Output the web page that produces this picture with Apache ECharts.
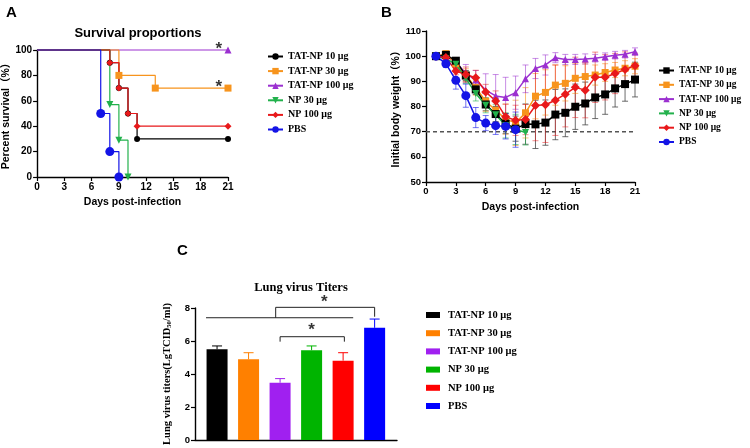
<!DOCTYPE html>
<html><head><meta charset="utf-8">
<script src="https://cdn.jsdelivr.net/npm/echarts@6/dist/echarts.min.js"></script>
<style>html,body{margin:0;padding:0;background:#fff}#c{width:750px;height:448px}</style>
</head><body><div id="c"></div>
<script>
// ---------- data ----------
const groups = ['TAT-NP 10 μg','TAT-NP 30 μg','TAT-NP 100 μg','NP 30 μg','NP 100 μg','PBS'];
const colorsA = ['#000000','#f7941d','#9b30d0','#22b14c','#e8191b','#1414e6'];
const colorsC = ['#000000','#ff8000','#a020f0','#00b400','#ff0000','#0000ff'];

// Panel A: Kaplan-Meier survival (day of event, percent surviving after event)
const survDays10 = [0, 8, 9, 10, 11, 21];   const survPct10 = [100, 90, 70, 50, 30, 30];
const survDays30 = [0, 9, 13, 21];          const survPct30 = [100, 80, 70, 70];
const survDays100 = [0, 21];                const survPct100 = [100, 100];
const survDaysNP30 = [0, 8, 9, 10];         const survPctNP30 = [100, 57, 29, 0];
const survDaysNP100 = [0, 8, 9, 10, 11, 21];const survPctNP100 = [100, 90, 70, 50, 40, 40];
const survDaysPBS = [0, 7, 8, 9];           const survPctPBS = [100, 50, 20, 0];
const survStars = [[20, 100.8], [20, 70.8]];

// Panel B: body weight (%), days 1..21
const days = [1,2,3,4,5,6,7,8,9,10,11,12,13,14,15,16,17,18,19,20,21];
const bw10    = [100,100.5,98.2,92.3,86.8,80.8,77,73.2,71.2,73,72.9,73.6,76.8,77.5,79.9,81.2,83.6,84.8,87.2,88.9,90.7];
const bw10Err = [0.5,0.5,1,2,2,2.5,3,4,5,8,9.6,9,10,9.5,9,8.5,8.4,7.9,7.4,6.8,6.9];
const bw30    = [100,101,97,92.5,87.5,82.1,78.5,75,73.5,77.5,84.1,85.6,88.5,89.2,91.2,91.9,92.5,93.5,94.5,95.2,96];
const bw30Err = [0.3,0.5,1.5,2.5,3,4,5,6,9,10,9,9,8,7,6,5,4,3.5,3,3,3];
const bw100   = [100,100,97.6,93.2,90.5,86.5,84.2,83.6,85.5,91,95.1,96.5,99.4,98.7,98.7,98.9,99.2,99.8,100.4,100.8,101.8];
const bw100Err= [0.3,0.5,1.5,3.5,3.8,6.5,8.5,8,6.6,5.5,4,4,2,2,2,2,1.5,1.5,1.5,1.5,1.5];
const bwNP30  = [100,99,96.8,91.2,85.2,80.5,76.7,72.5,70.9,69.7];
const bwNP30Err=[0.3,1,1.5,2,3,3,4,5,6,5];
const bwNP100 = [100,99.5,94.1,92.7,91.4,85.8,82.2,75.9,74.5,74.8,80.4,80.7,82.5,84.9,87.6,86.5,91.6,91.6,93.1,94.7,96.2];
const bwNP100Err=[0.3,0.5,1.5,3,3,3,4,5,6,6,14,15,14,13,12,11,10,9,8,7,5];
const bwPBS   = [100,97,90.4,84.3,75.6,73.4,72.4,72.1,70.8];
const bwPBSErr= [0.3,1.5,3.5,4.6,4,3,3.5,5,7];
const bwThreshold = 70;

// Panel C: lung virus titers
const titerMean = [5.5, 4.89, 3.47, 5.44, 4.81, 6.8];
const titerErr  = [0.2, 0.4, 0.25, 0.26, 0.48, 0.53];
const sigLine1   = [[-0.35, 7.41], [4.32, 7.41]];
const sigBracket1= [[1.86, 7.41], [1.86, 8.04], [5, 8.04], [5, 7.47]];
const sigBracket2= [[2, 5.96], [2, 6.26], [4.04, 6.26], [4.04, 5.96]];
const sigStars   = [[3.4, 8.36], [3.0, 6.62]];

// ---------- helpers ----------
const SANS = 'Liberation Sans, Arial, Noto Sans CJK SC, sans-serif';
const SERIF = 'Liberation Serif, Times New Roman, serif';
const zip = (a, b) => a.map((v, i) => [v, b[i]]);
function survData(d, p) {
  return d.map((x, i) => i === 0 ? {value: [x, p[i]], symbol: 'none'} : {value: [x, p[i]]});
}
function errSeries(xs, ys, es, color, xi, yi, capHalf, upOnly) {
  return {
    type: 'custom', xAxisIndex: xi, yAxisIndex: yi, z: 1, silent: true,
    data: xs.slice(0, ys.length).map((x, i) => [x, ys[i], es[i]]),
    renderItem: function (params, api) {
      const x = api.value(0), y = api.value(1), e = api.value(2);
      const top = api.coord([x, y + e]);
      const bot = api.coord([x, upOnly ? y : y - e]);
      const st = {stroke: color, lineWidth: 1};
      const ch = [
        {type: 'line', shape: {x1: top[0], y1: top[1], x2: bot[0], y2: bot[1]}, style: st},
        {type: 'line', shape: {x1: top[0] - capHalf, y1: top[1], x2: top[0] + capHalf, y2: top[1]}, style: st}
      ];
      if (!upOnly) ch.push({type: 'line', shape: {x1: bot[0] - capHalf, y1: bot[1], x2: bot[0] + capHalf, y2: bot[1]}, style: st});
      return {type: 'group', children: ch};
    }
  };
}
const axisLine = {onZero: false, lineStyle: {color: '#000', width: 1.4}};
const axisTick = {show: true, length: 4, lineStyle: {color: '#000', width: 1.2}};
function lbl(size) { return {color: '#000', fontFamily: SANS, fontWeight: 'bold', fontSize: size, margin: 5}; }
const nameStyle = {color: '#000', fontFamily: SANS, fontWeight: 'bold', fontSize: 10.5};

// ---------- series ----------
const series = [];
// A
const survSets = [
  [survDays100, survPct100, 2, 'triangle', 7, 0, 3],
  [survDays10, survPct10, 0, 'circle', 6, 0, 3],
  [survDays30, survPct30, 1, 'rect', 7, 0, 3],
  [survDaysNP30, survPctNP30, 3, 'triangle', 7, 180, 3],
  [survDaysNP100, survPctNP100, 4, 'diamond', 7, 0, 3],
  [survDaysPBS, survPctPBS, 5, 'circle', 9, 0, 4]
];
survSets.forEach(s => {
  series.push({
    name: groups[s[2]], type: 'line', step: 'end', xAxisIndex: 0, yAxisIndex: 0,
    data: survData(s[0], s[1]), symbol: s[3], symbolSize: s[4], symbolRotate: s[5],
    lineStyle: {width: 1.2, color: colorsA[s[2]]}, itemStyle: {color: colorsA[s[2]]},
    clip: false, z: s[6]
  });
});
series.push({
  type: 'scatter', xAxisIndex: 0, yAxisIndex: 0, data: survStars, symbolSize: 0, clip: false,
  label: {show: true, position: 'inside', formatter: '*', color: '#000', fontSize: 17, fontWeight: 'bold', fontFamily: SANS}
});
// B
series.push({
  type: 'line', xAxisIndex: 1, yAxisIndex: 1, data: [[0, bwThreshold], [21, bwThreshold]],
  symbol: 'none', lineStyle: {color: '#555', width: 1.5, type: [4, 3]}, z: 0, silent: true
});
const bwSets = [
  [bw10, bw10Err, 0, 'rect', 8, 0, 'rgba(60,60,60,0.75)'],
  [bw30, bw30Err, 1, 'rect', 7, 0, 'rgba(247,148,29,0.6)'],
  [bw100, bw100Err, 2, 'triangle', 7, 0, 'rgba(155,48,208,0.55)'],
  [bwNP30, bwNP30Err, 3, 'triangle', 7, 180, 'rgba(34,177,76,0.6)'],
  [bwNP100, bwNP100Err, 4, 'diamond', 9, 0, 'rgba(232,25,27,0.5)'],
  [bwPBS, bwPBSErr, 5, 'circle', 9, 0, 'rgba(20,20,230,0.6)']
];
bwSets.forEach(s => {
  series.push(errSeries(days, s[0], s[1], s[6], 1, 1, 3, false));
});
[2, 1, 0, 3, 4, 5].forEach(k => {
  const s = bwSets[k];
  series.push({
    name: groups[s[2]] + ' ', type: 'line', xAxisIndex: 1, yAxisIndex: 1,
    data: zip(days.slice(0, s[0].length), s[0]), symbol: s[3], symbolSize: s[4], symbolRotate: s[5],
    lineStyle: {width: 1.5, color: colorsA[s[2]]}, itemStyle: {color: colorsA[s[2]]}, z: 3
  });
});
// C
titerMean.forEach((v, i) => {
  series.push({
    name: groups[i] + '  ', type: 'bar', xAxisIndex: 2, yAxisIndex: 2, data: [[i, v]],
    barWidth: 21, barGap: '-100%', itemStyle: {color: colorsC[i]}, z: 2
  });
  series.push(errSeries([i], [v], [titerErr[i]], colorsC[i], 2, 2, 5, true));
});
[sigLine1, sigBracket1, sigBracket2].forEach(d => {
  series.push({type: 'line', xAxisIndex: 2, yAxisIndex: 2, data: d, symbol: 'none',
    lineStyle: {color: '#222', width: 1}, clip: false, z: 4, silent: true});
});
series.push({
  type: 'scatter', xAxisIndex: 2, yAxisIndex: 2, data: sigStars, symbolSize: 0, clip: false,
  label: {show: true, position: 'inside', formatter: '*', color: '#000', fontSize: 17, fontWeight: 'bold', fontFamily: SANS}
});

const legendBase = {orient: 'vertical', selectedMode: false, padding: 0, formatter: n => n.trim()};
const option = {
  animation: false,
  backgroundColor: '#fff',
  title: [
    {text: 'A', left: 1, top: 0, textStyle: {fontFamily: SANS, fontWeight: 'bold', fontSize: 15, color: '#000'}},
    {text: 'B', left: 376, top: 0, textStyle: {fontFamily: SANS, fontWeight: 'bold', fontSize: 15, color: '#000'}},
    {text: 'C', left: 172, top: 238, textStyle: {fontFamily: SANS, fontWeight: 'bold', fontSize: 15, color: '#000'}},
    {text: 'Survival proportions', left: 133, top: 22, textAlign: 'center',
     textStyle: {fontFamily: SANS, fontWeight: 'bold', fontSize: 13, color: '#000'}},
    {text: 'Lung virus Titers', left: 296, top: 276, textAlign: 'center',
     textStyle: {fontFamily: SERIF, fontWeight: 'bold', fontSize: 12.5, color: '#000'}}
  ],
  legend: [
    Object.assign({}, legendBase, {data: groups, left: 267, top: 51.5, itemWidth: 15, itemHeight: 8, itemGap: 4.6,
      textStyle: {fontFamily: SERIF, fontWeight: 'bold', fontSize: 10, color: '#000', lineHeight: 10}}),
    Object.assign({}, legendBase, {data: groups.map(g => g + ' '), left: 658, top: 65.5, itemWidth: 15, itemHeight: 8, itemGap: 4.3,
      textStyle: {fontFamily: SERIF, fontWeight: 'bold', fontSize: 9.5, color: '#000', lineHeight: 9}}),
    Object.assign({}, legendBase, {data: groups.map(g => g + '  '), left: 426, top: 309, icon: 'rect', itemWidth: 14, itemHeight: 6, itemGap: 6.2,
      textStyle: {fontFamily: SERIF, fontWeight: 'bold', fontSize: 10.5, color: '#000', lineHeight: 12, padding: [0, 0, 0, 3]}})
  ],
  grid: [
    {left: 37, top: 50, width: 191, height: 127},
    {left: 426, top: 31, width: 209, height: 151},
    {left: 195, top: 308, width: 202, height: 132}
  ],
  xAxis: [
    {gridIndex: 0, type: 'value', min: 0, max: 21, interval: 3, axisLine: axisLine, axisTick: axisTick,
     axisLabel: lbl(10), splitLine: {show: false}, name: 'Days post-infection', nameLocation: 'middle', nameGap: 20, nameTextStyle: nameStyle},
    {gridIndex: 1, type: 'value', min: 0, max: 21, interval: 3, axisLine: axisLine, axisTick: axisTick,
     axisLabel: lbl(9.5), splitLine: {show: false}, name: 'Days post-infection', nameLocation: 'middle', nameGap: 20, nameTextStyle: nameStyle},
    {gridIndex: 2, type: 'value', min: -0.7, max: 5.71, axisLine: axisLine, axisTick: {show: false},
     axisLabel: {show: false}, splitLine: {show: false}}
  ],
  yAxis: [
    {gridIndex: 0, type: 'value', min: 0, max: 100, interval: 20, axisLine: Object.assign({show: true}, axisLine), axisTick: axisTick,
     axisLabel: lbl(10), splitLine: {show: false}, name: 'Percent survival（%）', nameLocation: 'middle', nameGap: 23, nameTextStyle: nameStyle},
    {gridIndex: 1, type: 'value', min: 50, max: 110, interval: 10, axisLine: Object.assign({show: true}, axisLine), axisTick: axisTick,
     axisLabel: lbl(9.5), splitLine: {show: false}, name: 'Initial body weight（%）', nameLocation: 'middle', nameGap: 23, nameTextStyle: nameStyle},
    {gridIndex: 2, type: 'value', min: 0, max: 8, interval: 2, axisLine: Object.assign({show: true}, axisLine), axisTick: axisTick,
     axisLabel: lbl(9.5), splitLine: {show: false},
     name: 'Lung virus titers(LgTCID{s|50}/ml)', nameLocation: 'middle', nameGap: 22,
     nameTextStyle: {color: '#000', fontFamily: SERIF, fontWeight: 'bold', fontSize: 10.5,
       rich: {s: {fontFamily: SERIF, fontWeight: 'bold', fontSize: 6.5, verticalAlign: 'bottom', padding: [5, 0, 0, 0]}}}}
  ],
  series: series
};
const chart = echarts.init(document.getElementById('c'), null, {renderer: 'canvas'});
chart.setOption(option);
</script></body></html>
